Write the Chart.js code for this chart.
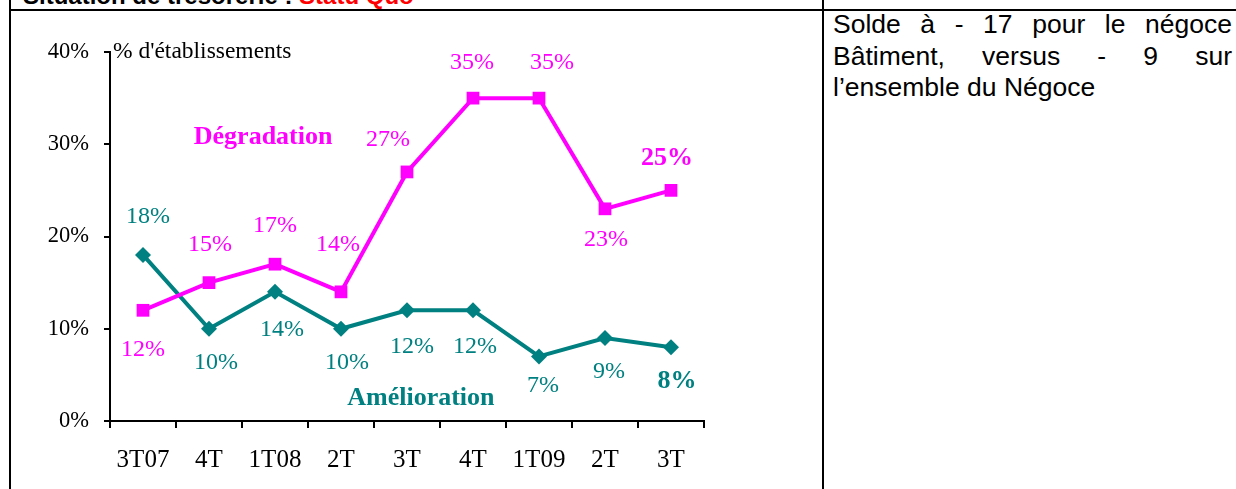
<!DOCTYPE html>
<html lang="fr">
<head>
<meta charset="utf-8">
<title>Situation de trésorerie</title>
<script src="https://cdn.jsdelivr.net/npm/chart.js@4/dist/chart.umd.min.js"></script>
<style>
  html, body { margin: 0; padding: 0; background: #fff; overflow: hidden; }
  #page { position: relative; width: 1236px; height: 489px; }
  .rule { position: absolute; background: #000; }
  #titre {
    position: absolute; left: 23px; top: -16px;
    font: bold 24px "Liberation Sans", Arial, sans-serif;
    line-height: 24px; white-space: nowrap; color: #000;
  }
  #titre span { color: #ff0000; }
  #commentaire {
    position: absolute; left: 833px; top: 9px; width: 399px;
    font: 26.5px "Liberation Sans", Arial, sans-serif;
    line-height: 31.5px; text-align: justify; color: #000;
  }
  #graph { position: absolute; left: 11px; top: 11px; }
</style>
</head>
<body>
<div id="page">
  <div id="titre">Situation de trésorerie : <span>Statu Quo</span></div>
  <div class="rule" style="left:9px; top:9px; width:1227px; height:2px;"></div>
  <div class="rule" style="left:9px; top:0; width:2px; height:489px;"></div>
  <div class="rule" style="left:822px; top:0; width:2px; height:489px;"></div>
  <div id="commentaire">Solde à - 17 pour le négoce Bâtiment, versus - 9 sur l’ensemble du Négoce</div>
  <canvas id="graph" width="806" height="478"></canvas>
</div>

<script>
const periodes = ["3T07", "4T", "1T08", "2T", "3T", "4T", "1T09", "2T", "3T"];
const degradation = [12, 15, 17, 14, 27, 35, 35, 23, 25];
const amelioration = [18, 10, 14, 10, 12, 12, 7, 9, 8];
const yMax = 40;
const yStep = 10;

const MAGENTA = "#ff00ff";
const TEAL = "#008080";
const SERIF = "'Liberation Serif', 'Times New Roman', serif";

// décalage des étiquettes de valeur par rapport au point (px)
const offsetsDeg = [[0, 39], [1, -38], [0, -38], [-3, -47], [-19, -32], [-1, -35], [13, -35], [1, 31], [-4, -32]];
const offsetsAme = [[5, -38], [7, 34], [7, 38], [6, 34], [5, 36], [2, 36], [4, 29], [4, 34], [6, 34]];

const valueLabels = {
    id: "valueLabels",
    afterDatasetsDraw(chart) {
        const ctx = chart.ctx;
        const sets = [
            { idx: 0, color: MAGENTA, offsets: offsetsDeg },
            { idx: 1, color: TEAL, offsets: offsetsAme }
        ];
        ctx.save();
        ctx.textAlign = "center";
        ctx.textBaseline = "middle";
        sets.forEach(s => {
            const meta = chart.getDatasetMeta(s.idx);
            const values = chart.data.datasets[s.idx].data;
            meta.data.forEach((pt, i) => {
                const last = i === values.length - 1;
                ctx.font = (last ? "bold 26px " : "24px ") + SERIF;
                ctx.fillStyle = s.color;
                const [dx, dy] = s.offsets[i];
                ctx.fillText(values[i] + "%", pt.x + dx, pt.y + dy);
            });
        });

        // noms des séries et unité
        const x = chart.scales.x, y = chart.scales.y;
        ctx.font = "bold 26px " + SERIF;
        ctx.fillStyle = MAGENTA;
        ctx.fillText("Dégradation", x.getPixelForValue(1.82), y.getPixelForValue(30.8));
        ctx.fillStyle = TEAL;
        ctx.fillText("Amélioration", x.getPixelForValue(4.21), y.getPixelForValue(2.5));

        ctx.font = "23.5px " + SERIF;
        ctx.fillStyle = "#000";
        ctx.textAlign = "left";
        ctx.fillText("% d'établissements", chart.chartArea.left + 3, y.getPixelForValue(yMax));
        ctx.restore();
    }
};

new Chart(document.getElementById("graph"), {
    type: "line",
    data: {
        labels: periodes,
        datasets: [
            {
                label: "Dégradation",
                data: degradation,
                borderColor: MAGENTA,
                backgroundColor: MAGENTA,
                borderWidth: 4,
                pointStyle: "rect",
                pointRadius: 9,
                pointBorderWidth: 0,
                tension: 0
            },
            {
                label: "Amélioration",
                data: amelioration,
                borderColor: TEAL,
                backgroundColor: TEAL,
                borderWidth: 4,
                pointStyle: "rectRot",
                pointRadius: 8,
                pointBorderWidth: 0,
                tension: 0
            }
        ]
    },
    options: {
        responsive: false,
        animation: false,
        layout: { padding: { left: 0, top: 41, right: 113, bottom: 0 } },
        plugins: {
            legend: { display: false },
            tooltip: { enabled: false }
        },
        scales: {
            x: {
                offset: true,
                grid: { offset: true, drawOnChartArea: false, tickLength: 7, color: "#000", lineWidth: 2 },
                border: { color: "#000", width: 2 },
                ticks: { color: "#000", font: { family: SERIF, size: 25 }, padding: 17, maxRotation: 0, autoSkip: false },
                afterFit(scale) { scale.height = 68; }
            },
            y: {
                min: 0,
                max: yMax,
                grid: { drawOnChartArea: false, tickLength: 6, color: "#000", lineWidth: 2 },
                border: { color: "#000", width: 2 },
                ticks: {
                    stepSize: yStep,
                    color: "#000",
                    font: { family: SERIF, size: 22.5 },
                    padding: 15,
                    callback: v => v + "%"
                },
                afterFit(scale) { scale.width = 99; }
            }
        }
    },
    plugins: [valueLabels]
});
</script>
</body>
</html>
